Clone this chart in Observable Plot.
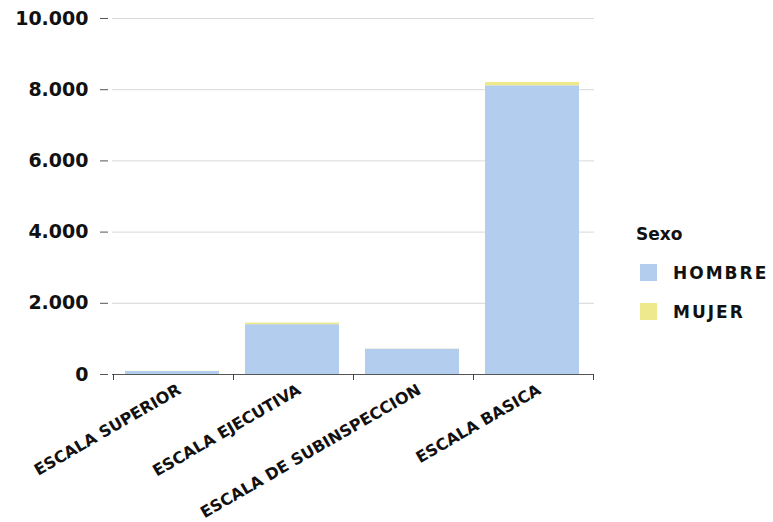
<!DOCTYPE html>
<html>
<head>
<meta charset="utf-8">
<script src="https://cdn.jsdelivr.net/npm/d3@7"></script>
<script src="https://cdn.jsdelivr.net/npm/@observablehq/plot@0.6"></script>
<style>
  html, body { margin: 0; padding: 0; background: #fff; }
  #wrap { position: relative; width: 773px; height: 522px; font-family: "DejaVu Sans", sans-serif; }
  #legend { position: absolute; left: 636px; top: 224px; font-weight: bold; color: #111; }
  #legend .title { font-size: 17px; margin-bottom: 9px; }
  #legend .row { display: flex; align-items: center; height: 39px; margin-left: 4px; }
  #legend .sw { width: 17px; height: 17px; margin-right: 16px; }
  #legend .lab { font-size: 17px; letter-spacing: 2px; }
</style>
</head>
<body>
<div id="wrap"><div id="chart"></div><div id="legend"></div></div>
<script>
const categories = ["ESCALA SUPERIOR", "ESCALA EJECUTIVA", "ESCALA DE SUBINSPECCION", "ESCALA BASICA"];
const sexes = ["HOMBRE", "MUJER"];
const hombre = [85, 1400, 710, 8110];
const mujer = [5, 45, 5, 95];
const colors = ["#b3cdee", "#eee98c"];
const yTicks = [0, 2000, 4000, 6000, 8000, 10000];

const data = [];
categories.forEach((c, i) => {
  data.push({cat: c, sexo: "HOMBRE", value: hombre[i]});
  data.push({cat: c, sexo: "MUJER", value: mujer[i]});
});

const fmt = d => d3.format(",")(d).replace(/,/g, ".");

const chart = Plot.plot({
  width: 620,
  height: 522,
  marginLeft: 112,
  marginRight: 26,
  marginTop: 18,
  marginBottom: 148,
  style: {fontFamily: "DejaVu Sans, sans-serif", background: "#fff"},
  x: {domain: categories, padding: 0},
  y: {domain: [0, 10000]},
  color: {domain: sexes, range: colors},
  marks: [
    Plot.gridY(yTicks, {stroke: "#d8d8d8", strokeOpacity: 1}),
    Plot.axisY(yTicks, {tickFormat: fmt, tickSize: 8, tickPadding: 12, fontSize: 19, fontWeight: "bold", fill: "#111", stroke: "#555", dx: -4, label: null}),
    Plot.barY(data, Plot.stackY({x: "cat", y: "value", fill: "sexo", order: sexes, insetLeft: 12, insetRight: 14})),
    Plot.ruleY([0], {stroke: "#555", strokeWidth: 1}),
    Plot.axisX(categories, {tickSize: 6, text: null, dx: -60, stroke: "#444", label: null}),
    Plot.axisX([categories[categories.length - 1]], {tickSize: 6, text: null, dx: 60, stroke: "#444", label: null}),
    Plot.axisX(categories, {tickSize: 0, tickRotate: -30, tickPadding: 14, dx: 6, fontSize: 16, fontWeight: "bold", fill: "#111", label: null})
  ]
});
document.getElementById("chart").appendChild(chart);

const legend = document.getElementById("legend");
const t = document.createElement("div");
t.className = "title"; t.textContent = "Sexo";
legend.appendChild(t);
sexes.forEach((s, i) => {
  const r = document.createElement("div"); r.className = "row";
  const sw = document.createElement("div"); sw.className = "sw"; sw.style.background = colors[i];
  const l = document.createElement("div"); l.className = "lab"; l.textContent = s;
  r.appendChild(sw); r.appendChild(l); legend.appendChild(r);
});
</script>
</body>
</html>
